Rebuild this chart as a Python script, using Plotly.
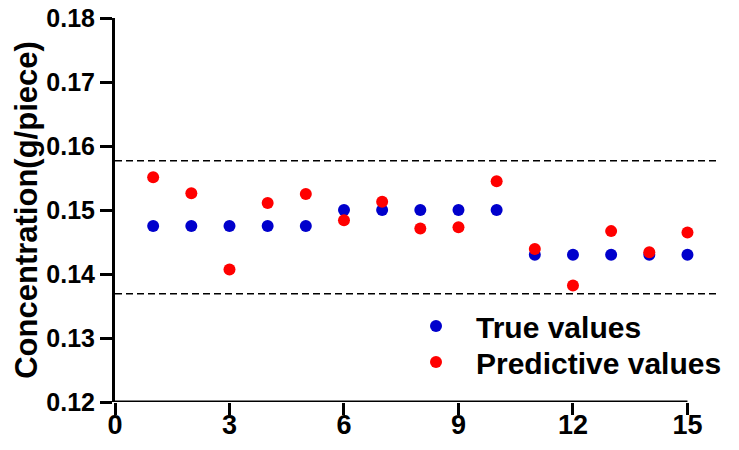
import plotly.graph_objects as go

samples = list(range(1, 16))
true_values = [0.1475, 0.1475, 0.1475, 0.1475, 0.1475,
               0.150, 0.150, 0.150, 0.150, 0.150,
               0.143, 0.143, 0.143, 0.143, 0.143]
predictive_values = [0.1551, 0.1526, 0.1407, 0.1511, 0.1525,
                     0.1484, 0.1513, 0.1471, 0.1473, 0.1545,
                     0.1439, 0.1382, 0.1467, 0.1434, 0.1465]
upper_limit = 0.1577
lower_limit = 0.1369
x_ticks = [0, 3, 6, 9, 12, 15]
y_ticks = [0.12, 0.13, 0.14, 0.15, 0.16, 0.17, 0.18]

FONT = "Arial, Liberation Sans, sans-serif"

fig = go.Figure()
fig.add_trace(go.Scatter(x=samples, y=true_values, mode="markers", name="True values",
                         legend="legend",
                         marker=dict(color="#0000CC", size=12)))
fig.add_trace(go.Scatter(x=samples, y=predictive_values, mode="markers", name="Predictive values",
                         legend="legend2",
                         marker=dict(color="#FF0000", size=12)))

for yv in (upper_limit, lower_limit):
    fig.add_shape(type="line", xref="x", yref="y", x0=0, x1=15.8, y0=yv, y1=yv,
                  line=dict(color="black", width=1.5, dash="7px,4px"), layer="below")

# x axis baseline from 0 to 15
fig.add_shape(type="line", xref="x", yref="y", x0=0, x1=15, y0=0.12, y1=0.12,
              line=dict(color="black", width=3))

legend_common = dict(xanchor="left", yanchor="middle", itemwidth=70,
                     font=dict(family=FONT, size=30, color="black", weight="bold"),
                     bgcolor="rgba(0,0,0,0)")

fig.update_layout(
    width=739, height=450,
    margin=dict(l=115, r=21, t=18, b=48),
    plot_bgcolor="white", paper_bgcolor="white",
    font=dict(family=FONT, color="black"),
    showlegend=True,
    legend=dict(x=0.466, y=0.198, **legend_common),
    legend2=dict(x=0.466, y=0.104, **legend_common),
    xaxis=dict(range=[0, 15.8], tickvals=x_ticks, ticktext=[str(v) for v in x_ticks],
               showgrid=False, zeroline=False, showline=False, automargin=False,
               ticks="outside", ticklen=12, tickwidth=3, tickcolor="black",
               tickfont=dict(family=FONT, size=27, color="black", weight="bold"),
               ticklabelstandoff=-13, ticklabeloverflow="allow"),
    yaxis=dict(range=[0.12, 0.18], tickvals=y_ticks, ticktext=[f"{v:.2f}" for v in y_ticks],
               showgrid=False, zeroline=False, showline=True, linewidth=3, linecolor="black",
               automargin=False, ticklabeloverflow="allow",
               ticks="outside", ticklen=12, tickwidth=3, tickcolor="black",
               tickfont=dict(family=FONT, size=25, color="black", weight="bold"),
               title=dict(text="<b>Concentration(g/piece)</b>", standoff=0,
                          font=dict(family=FONT, size=31, color="black"))),
)

fig.write_html("out.html", config={"displayModeBar": False},
               post_script="document.body.style.margin='0';document.body.style.overflow='hidden';")
